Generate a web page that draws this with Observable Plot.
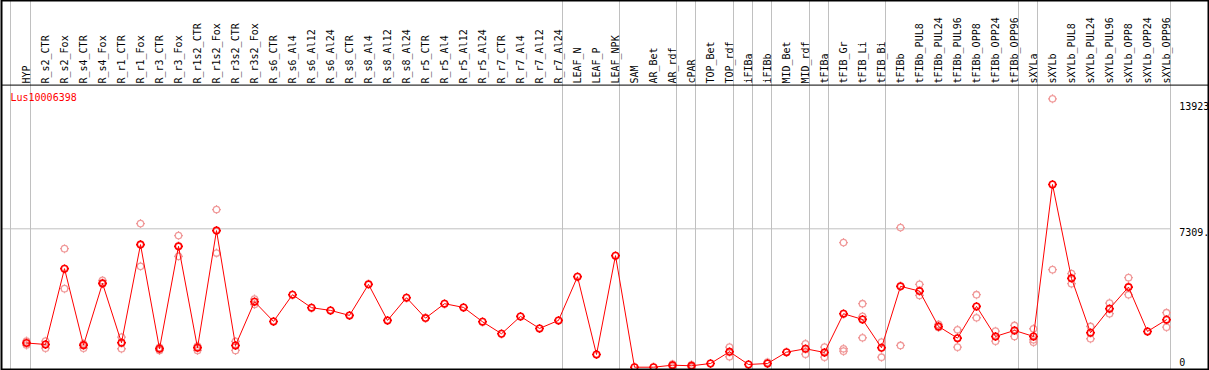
<!DOCTYPE html>
<html><head><meta charset="utf-8">
<script src="https://cdn.jsdelivr.net/npm/d3@7"></script>
<script src="https://cdn.jsdelivr.net/npm/@observablehq/plot@0.6"></script>
<style>body{margin:0;background:#fff}</style>
</head><body><div id="chart"></div>
<script>
const geneName = "Lus10006398";
const samples = ["HYP","R_s2_CTR","R_s2_Fox","R_s4_CTR","R_s4_Fox","R_r1_CTR","R_r1_Fox","R_r3_CTR","R_r3_Fox","R_r1s2_CTR","R_r1s2_Fox","R_r3s2_CTR","R_r3s2_Fox","R_s6_CTR","R_s6_Al4","R_s6_Al12","R_s6_Al24","R_s8_CTR","R_s8_Al4","R_s8_Al12","R_s8_Al24","R_r5_CTR","R_r5_Al4","R_r5_Al12","R_r5_Al24","R_r7_CTR","R_r7_Al4","R_r7_Al12","R_r7_Al24","LEAF_N","LEAF_P","LEAF_NPK","SAM","AR_Bet","AR_rdf","cPAR","TOP_Bet","TOP_rdf","iFIBa","iFIBb","MID_Bet","MID_rdf","tFIBa","tFIB_Gr","tFIB_Li","tFIB_Bi","tFIBb","tFIBb_PUL8","tFIBb_PUL24","tFIBb_PUL96","tFIBb_OPP8","tFIBb_OPP24","tFIBb_OPP96","sXYLa","sXYLb","sXYLb_PUL8","sXYLb_PUL24","sXYLb_PUL96","sXYLb_OPP8","sXYLb_OPP24","sXYLb_OPP96"];
const means = [1500,1426,5283,1391,4534,1513,6505,1207,6418,1258,7218,1375,3601,2598,3958,3296,3158,2904,4483,2649,3805,2766,3500,3311,2583,1971,2853,2241,2649,4875,917,5945,270,270,372,341,458,1054,408,458,1034,1207,1019,2990,2700,1258,4381,4141,2343,1747,3362,1834,2139,1834,9562,4788,2022,3245,4345,2089,2685];
const replicates = [[1600,1400],[1594,1238],[6301,4264],[1462,1238],[4686,4518],[1798,1207],[7575,5400],[1274,1121],[6964,5909],[1340,1121],[8288,6077],[1579,1121],[3734,3464],[],[],[],[],[],[],[],[],[],[],[],[],[],[],[],[],[],[],[],[],[],[423,306],[392,270],[],[1289,800],[],[525],[],[1462,932],[1289,779],[6607,1207,1085],[3500,2853,1768],[1544,779],[7371,1375],[4483,3922],[2445,2292],[2175,1289],[3958,2786],[2104,1594],[2394,1834],[2226,1666,1544],[13923,5232],[5028,4518],[2343,1717],[3530,2990],[4824,3958],[],[3041,2308]];
const groupEnds = ["HYP","R_r7_Al24","LEAF_NPK","AR_rdf","cPAR","TOP_rdf","iFIBa","iFIBb","MID_rdf","tFIBa","tFIB_Bi","tFIBb_OPP96","sXYLa","sXYLb_OPP96"];
const axisValues = [13923, 7309.575, 0];
const axisTexts = ["13923", "7309.", "0"];
const yMax = 14619.15;

const repRows = replicates.flatMap((vals, i) => vals.map(v => ({sample: samples[i], value: v})));
const meanRows = samples.map((s, i) => ({sample: s, value: means[i]}));

const gear = {
  draw(ctx, size) {
    const r = Math.sqrt(size / Math.PI);
    ctx.moveTo(r, 0);
    ctx.arc(0, 0, r, 0, 2 * Math.PI);
    for (const [a, b] of [[1,0],[-1,0],[0,1],[0,-1]]) {
      ctx.moveTo(a * r, b * r);
      ctx.lineTo(a * (r + 1.3), b * (r + 1.3));
    }
  }
};

const axisMark = (i, dy) => Plot.text([axisTexts[i]], {
  y: [axisValues[i]], text: d => d, frameAnchor: "right", dx: -29.3, dy,
  textAnchor: "start", lineAnchor: "middle", fill: "black", fontSize: 10
});

const chart = Plot.plot({
  width: 1209, height: 370,
  marginTop: 0, marginLeft: 1, marginRight: 1, marginBottom: 1,
  x: {type: "point", domain: samples, range: [26, 1166], padding: 0, axis: null},
  y: {domain: [0, yMax], range: [372, 84.6], axis: null},
  style: {background: "white", fontFamily: "'DejaVu Sans Mono', monospace", fontSize: "10px"},
  marks: [
    Plot.ruleX(["HYP"], {x: d => d, dx: -16, stroke: "#c0c0c0"}),
    Plot.ruleX(groupEnds, {x: d => d, dx: 4, stroke: "#c0c0c0"}),
    Plot.ruleY([yMax / 2], {stroke: "#c0c0c0", insetRight: 37}),
    Plot.ruleY([yMax], {stroke: "black"}),
    Plot.text(samples, {x: d => d, text: d => d, frameAnchor: "top", dy: 83, rotate: -90,
      textAnchor: "start", lineAnchor: "middle", fill: "black", fontSize: 10}),
    Plot.text([geneName], {text: d => d, frameAnchor: "top-left", dx: 9, dy: 97,
      textAnchor: "start", lineAnchor: "middle", fill: "red", fontSize: 10}),
    axisMark(0, 8.5),
    axisMark(1, 4),
    axisMark(2, -10.2),
    Plot.dot(repRows, {x: "sample", y: "value", r: 3.2, symbol: gear, stroke: "#f09a9a", strokeWidth: 1.3, fill: "none"}),
    Plot.line(meanRows, {x: "sample", y: "value", stroke: "red", strokeWidth: 1}),
    Plot.dot(meanRows, {x: "sample", y: "value", r: 3.2, symbol: gear, stroke: "red", strokeWidth: 1.6, fill: "none"}),
    Plot.frame({stroke: "black", strokeWidth: 2})
  ]
});
document.getElementById("chart").append(chart);
</script>
</body></html>
